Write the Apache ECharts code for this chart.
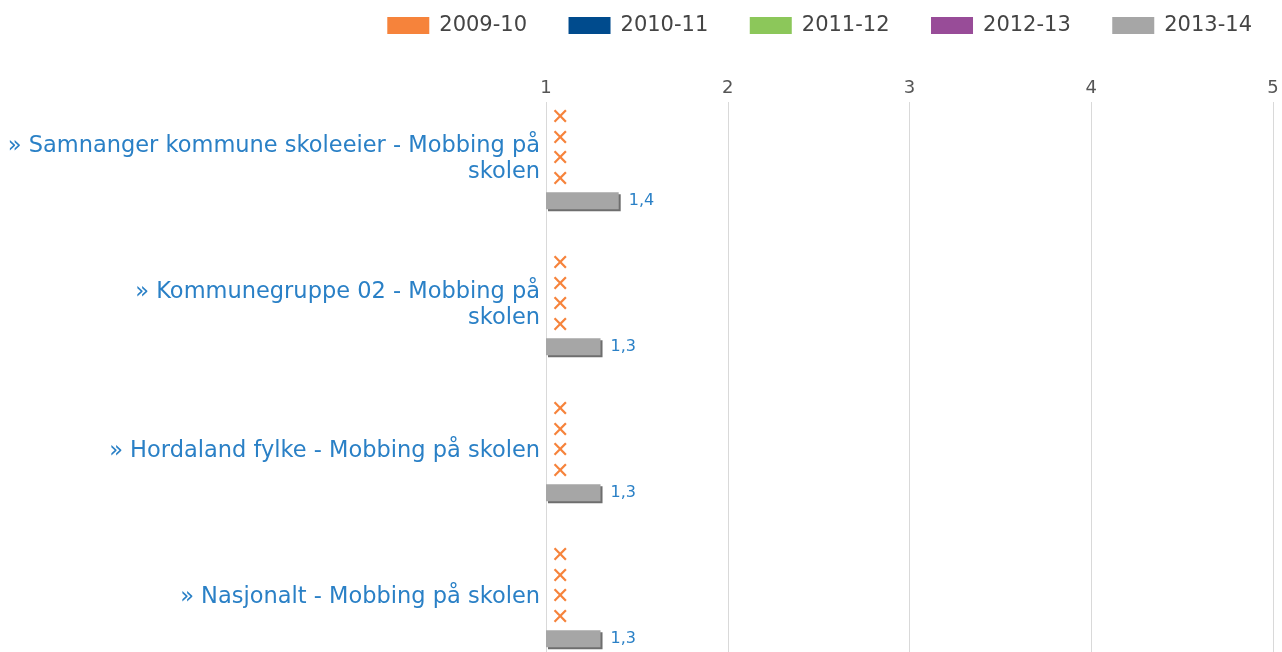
<!DOCTYPE html>
<html>
<head>
<meta charset="utf-8">
<script src="https://cdn.jsdelivr.net/npm/echarts@6/dist/echarts.min.js"></script>
<style>
  html, body { margin: 0; padding: 0; background: #fff; }
  #chart { width: 1282px; height: 652px; }
</style>
</head>
<body>
<div id="chart"></div>
<script>
// categories (names wrap like the original)
var categories = [
  "» Samnanger kommune skoleeier - Mobbing på\nskolen",
  "» Kommunegruppe 02 - Mobbing på\nskolen",
  "» Hordaland fylke - Mobbing på skolen",
  "» Nasjonalt - Mobbing på skolen"
];
var seasons = ["2009-10", "2010-11", "2011-12", "2012-13", "2013-14"];
var colors = ["#f6833b", "#004b8d", "#8cc75a", "#984c98", "#a6a6a6"];
var v2009 = [null, null, null, null];
var v2010 = [null, null, null, null];
var v2011 = [null, null, null, null];
var v2012 = [null, null, null, null];
var v2013 = [1.4, 1.3, 1.3, 1.3];
var tickMin = 1, tickMax = 5, tickStep = 1;

var allValues = [v2009, v2010, v2011, v2012, v2013];
var font = "DejaVu Sans";

// null values get an orange cross at the axis start
function toData(arr) {
  return arr.map(function (v) {
    if (v === null) {
      return {
        value: tickMin,
        label: {
          show: true, position: "right", distance: 5,
          formatter: "✕", color: "#f6833b", fontSize: 22, fontWeight: "bold", fontFamily: font
        }
      };
    }
    return v;
  });
}

var series = seasons.map(function (s, i) {
  return {
    name: s,
    type: "bar",
    xAxisIndex: 0,
    yAxisIndex: 0,
    barWidth: 17,
    barGap: "21%",
    data: toData(allValues[i]),
    itemStyle: {
      color: colors[i],
      shadowColor: "#6e6e6e",
      shadowOffsetX: 2,
      shadowOffsetY: 2,
      shadowBlur: 0
    },
    label: {
      show: true,
      position: "right",
      distance: 10,
      color: "#2a80c6",
      fontSize: 16,
      fontFamily: font,
      formatter: function (p) {
        return String(p.value).replace(".", ",");
      }
    }
  };
});

var chart = echarts.init(document.getElementById("chart"));
chart.setOption({
  animation: false,
  color: colors,
  legend: {
    top: 15,
    right: 30,
    icon: "rect",
    itemWidth: 42,
    itemHeight: 17,
    itemGap: 41.5,
    padding: 0,
    textStyle: { color: "#444", fontSize: 21, fontFamily: font, padding: [0, 0, 0, 5] },
    data: seasons
  },
  grid: [
    { left: 546, right: 9, top: 86.5, bottom: -18.5, outerBoundsMode: "none", containLabel: false },
    { left: 546, right: 9, top: 102, bottom: 0, outerBoundsMode: "none", containLabel: false }
  ],
  xAxis: [
    {
      gridIndex: 0, type: "value", min: tickMin, max: tickMax, interval: tickStep,
      show: false
    },
    {
      gridIndex: 1, type: "value", position: "top", min: tickMin, max: tickMax, interval: tickStep,
      axisLine: { show: false },
      axisTick: { show: false },
      splitLine: { show: true, lineStyle: { color: "#d9d9d9", width: 1 } },
      axisLabel: { color: "#555", fontSize: 18, fontFamily: font, margin: 5 }
    }
  ],
  yAxis: [
    {
      gridIndex: 0, type: "category", inverse: true, data: categories,
      axisLine: { show: false },
      axisTick: { show: false },
      axisLabel: {
        color: "#2a80c6", fontSize: 22.5, fontFamily: font, lineHeight: 26,
        margin: 6, align: "right", padding: [6, 0, 0, 0]
      }
    },
    { gridIndex: 1, type: "value", show: false }
  ],
  series: series
});
</script>
</body>
</html>
